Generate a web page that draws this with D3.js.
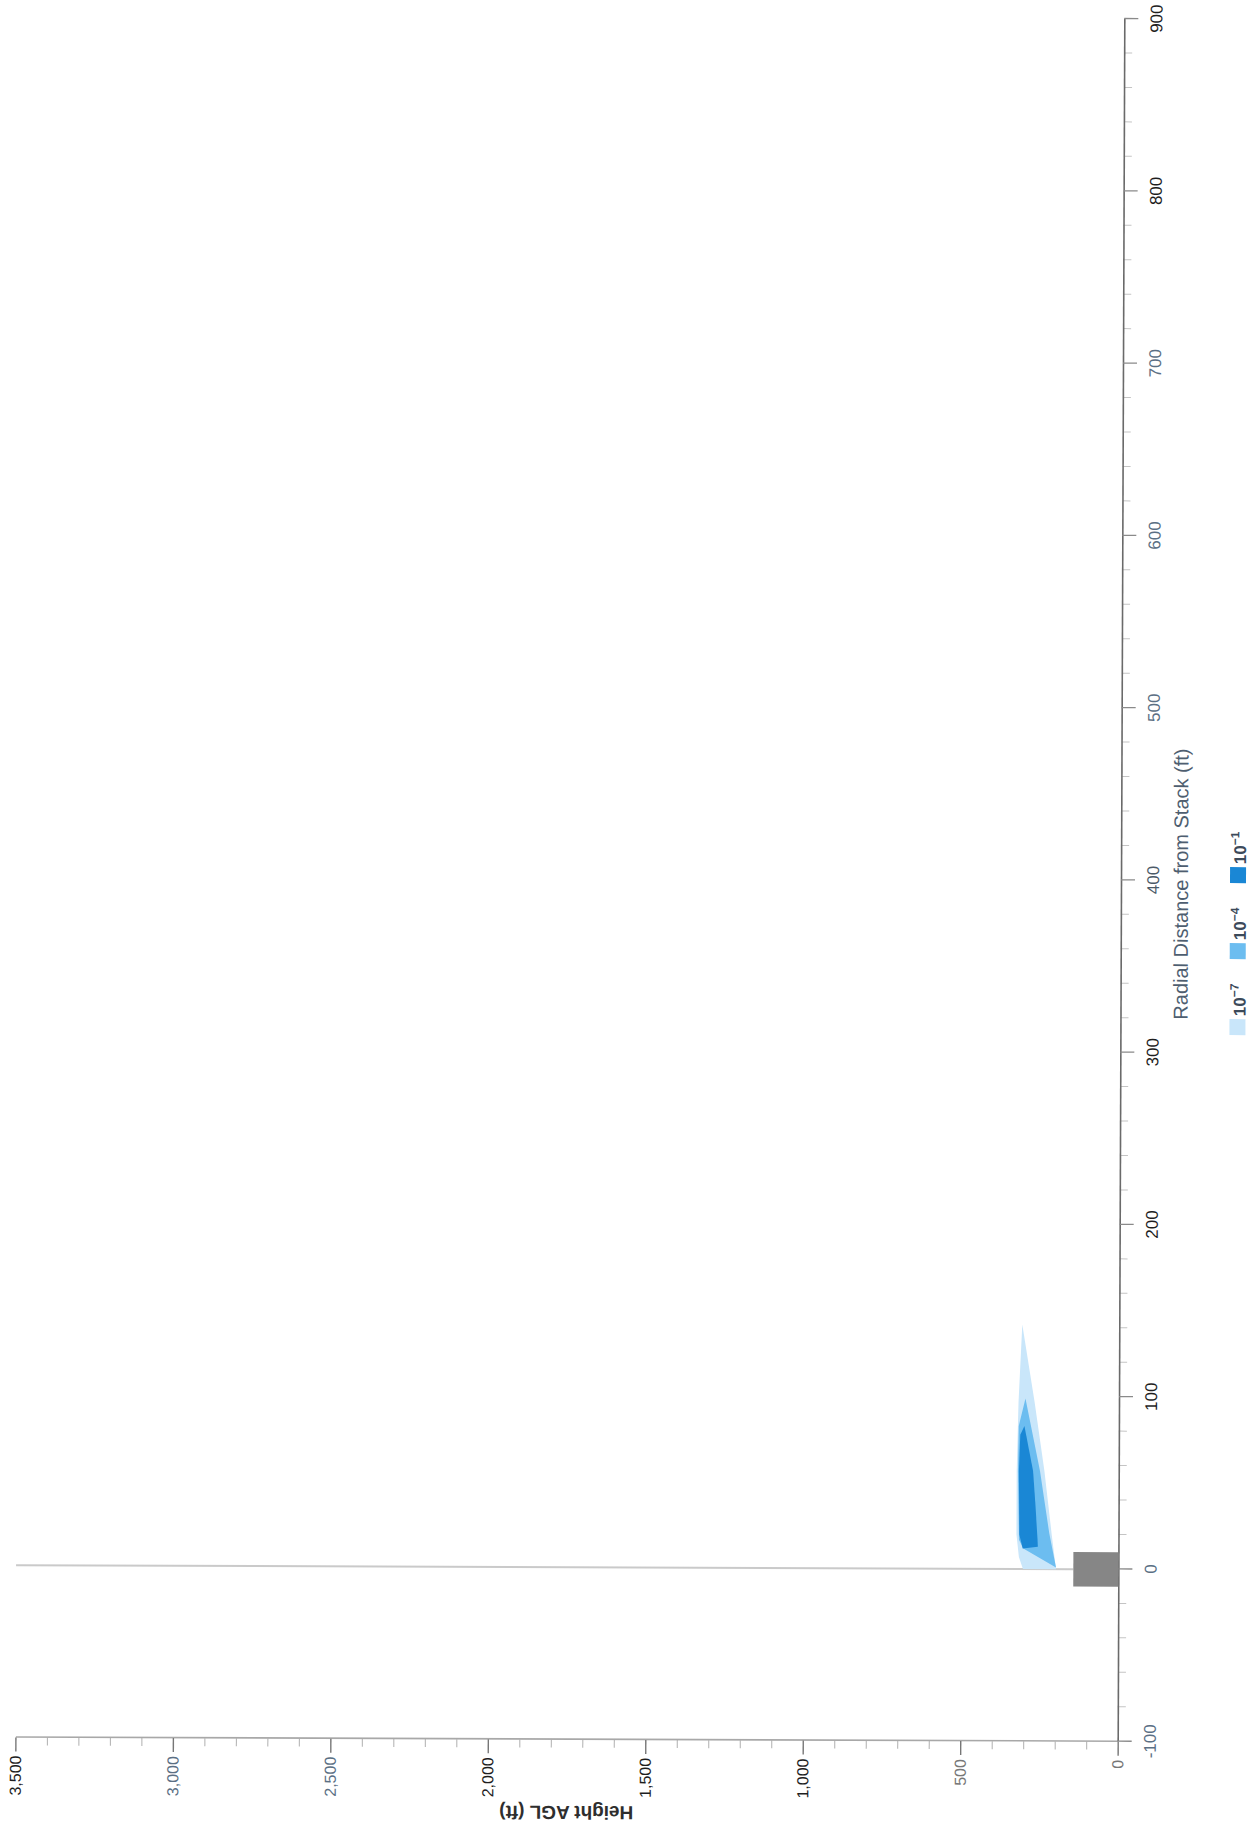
<!DOCTYPE html>
<html>
<head>
<meta charset="utf-8">
<script src="https://cdn.jsdelivr.net/npm/d3@7"></script>
<style>
  html, body { margin: 0; background: #ffffff; }
  svg { display: block; font-family: "Liberation Sans", Arial, sans-serif; }
</style>
</head>
<body>
<svg id="chart" width="1249" height="1839"></svg>
<script>
// Axis ticks (ft)
const radialTicks = [-100, 0, 100, 200, 300, 400, 500, 600, 700, 800, 900];
const heightTicks = [0, 500, 1000, 1500, 2000, 2500, 3000, 3500];

// Stack footprint: half width (ft) and height AGL (ft)
const stackHalfWidth = 10;
const stackHeight = 143;

// Concentration contour outlines as [radial distance ft, height AGL ft]
const contourE7 = [[0, 303], [7, 316], [20, 324], [57, 324], [97, 319], [142, 308],
                   [97, 268], [57, 236], [20, 212], [0, 198]];
const contourE4 = [[12, 302], [17, 316], [57, 320], [83, 318], [99, 297],
                   [57, 250], [21, 220], [1, 198]];
const contourE1 = [[12, 304], [20, 315], [57, 317], [78, 313], [83, 300],
                   [57, 272], [37, 264], [17, 257], [13, 256]];

const legendExponents = [-7, -4, -1];
const legendColors = ["#c9e6fa", "#6cbdf0", "#1a87d5"];

// Plot frame (drawn landscape, then turned onto the page)
const W = 1722.7, H = 1102.3;
const x = d3.scaleLinear().domain([-100, 900]).range([0, W]);
const y = d3.scaleLinear().domain([0, 3500]).range([H, 0]);

const svg = d3.select("#chart");
const root = svg.append("g")
  .attr("transform", `translate(1117.7,1741.7) rotate(-89.78) translate(0,${-H})`);

// Label colours vary along the axes
const radialLabelColor = d => ([700, 600, 500, 0, -100].includes(d) ? "#5b6f84" : (d === 400 ? "#4b5a68" : "#1e1e1e"));
const heightLabelColor = d => ([3000, 2500].includes(d) ? "#5b6f84" : ([500, 0].includes(d) ? "#777777" : "#1e1e1e"));

// Minor ticks
const radialMinor = d3.range(-100, 901, 20).filter(v => v % 100 !== 0);
const heightMinor = d3.range(0, 3501, 100).filter(v => v % 500 !== 0);

root.append("g")
  .attr("transform", `translate(0,${H})`)
  .call(d3.axisBottom(x).tickValues(radialMinor).tickSize(8).tickSizeOuter(0).tickFormat(""))
  .call(g => g.select(".domain").remove())
  .call(g => g.selectAll("line").attr("stroke", "#c4c4c4").attr("stroke-width", 1));

root.append("g")
  .call(d3.axisLeft(y).tickValues(heightMinor).tickSize(8).tickSizeOuter(0).tickFormat(""))
  .call(g => g.select(".domain").remove())
  .call(g => g.selectAll("line").attr("stroke", "#b0b0b0").attr("stroke-width", 1));

// Height axis
root.append("g")
  .call(d3.axisLeft(y).tickValues(heightTicks).tickSize(14).tickSizeOuter(0)
        .tickPadding(4).tickFormat(d3.format(",")))
  .call(g => g.select(".domain").attr("stroke", "#a8a8a8").attr("stroke-width", 1.6))
  .call(g => g.selectAll(".tick line").attr("stroke", "#777").attr("stroke-width", 1.4))
  .call(g => g.selectAll(".tick text")
      .attr("font-size", 16)
      .attr("font-family", "'Liberation Sans', Arial, sans-serif")
      .attr("fill", d => heightLabelColor(d)));

// Radial distance axis
root.append("g")
  .attr("transform", `translate(0,${H})`)
  .call(d3.axisBottom(x).tickValues(radialTicks).tickSize(14).tickSizeOuter(0)
        .tickPadding(12).tickFormat(d => String(d)))
  .call(g => g.select(".domain").attr("stroke", "#6a6a6a").attr("stroke-width", 1.6))
  .call(g => g.selectAll(".tick line").attr("stroke", "#8a8a8a").attr("stroke-width", 1.3))
  .call(g => g.selectAll(".tick text")
      .attr("font-size", 17)
      .attr("font-family", "'Liberation Sans', Arial, sans-serif")
      .attr("fill", d => radialLabelColor(d)));

// Stack centreline
root.append("line")
  .attr("x1", x(0)).attr("x2", x(0))
  .attr("y1", y(stackHeight)).attr("y2", y(3500))
  .attr("stroke", "#cacaca").attr("stroke-width", 2);

// Concentration contours, outermost first
const outline = d3.line().x(d => x(d[0])).y(d => y(d[1])).curve(d3.curveLinearClosed);
[contourE7, contourE4, contourE1].forEach((c, i) => {
  root.append("path").attr("d", outline(c)).attr("fill", legendColors[i]);
});

// Stack
root.append("rect")
  .attr("x", x(-stackHalfWidth))
  .attr("y", y(stackHeight))
  .attr("width", x(stackHalfWidth) - x(-stackHalfWidth))
  .attr("height", y(0) - y(stackHeight))
  .attr("fill", "#868686");

// Axis titles
root.append("text")
  .attr("x", x(398)).attr("y", H + 67)
  .attr("text-anchor", "middle")
  .attr("font-size", 20)
  .attr("fill", "#4e5e70")
  .text("Radial Distance from Stack (ft)");

root.append("text")
  .attr("transform", `translate(-73,${y(1750)}) rotate(-90)`)
  .attr("text-anchor", "middle")
  .attr("dy", "0.35em")
  .attr("font-size", 19)
  .attr("font-weight", "bold")
  .attr("fill", "#2e2e2e")
  .text("Height AGL (ft)");

// Legend
const legend = root.append("g").attr("transform", `translate(707,${H + 109})`);
legendExponents.forEach((e, i) => {
  const item = legend.append("g").attr("transform", `translate(${i * 76},0)`);
  item.append("rect").attr("width", 16).attr("height", 16).attr("fill", legendColors[i]);
  const t = item.append("text")
    .attr("x", 19).attr("y", 16)
    .attr("font-size", 17).attr("font-weight", "bold")
    .attr("fill", "#3c4a5a");
  t.append("tspan").text("10");
  t.append("tspan").attr("dy", -7).attr("font-size", 12).text("\u2212" + Math.abs(e));
});
</script>
</body>
</html>
